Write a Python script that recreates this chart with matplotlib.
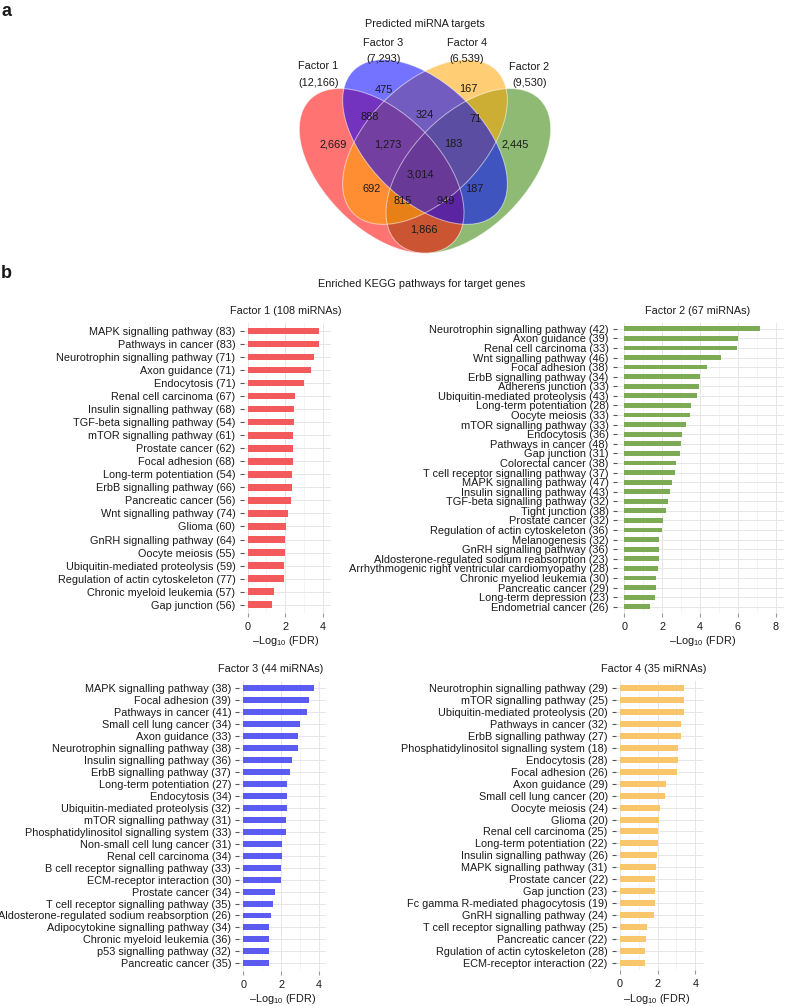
import numpy as np
import matplotlib
matplotlib.use("Agg")
import matplotlib.pyplot as plt
from matplotlib.patches import Ellipse
from matplotlib.ticker import MultipleLocator

plt.rcParams['font.family'] = ['Liberation Sans', 'DejaVu Sans']
plt.rcParams['mathtext.fontset'] = 'custom'
plt.rcParams['mathtext.rm'] = 'Liberation Sans'
plt.rcParams['mathtext.it'] = 'Liberation Sans:italic'

# ---- Venn data (panel a) ----
venn_sets = ["Factor 1", "Factor 2", "Factor 3", "Factor 4"]
venn_totals = ["12,166", "9,530", "7,293", "6,539"]
region_counts = ["475", "167", "888", "324", "71", "2,669", "1,273", "183", "2,445",
                 "3,014", "692", "187", "815", "949", "1,866"]

# ---- KEGG enrichment data (panel b) ----
f1_names = ["MAPK signalling pathway", "Pathways in cancer", "Neurotrophin signalling pathway",
            "Axon guidance", "Endocytosis", "Renal cell carcinoma", "Insulin signalling pathway",
            "TGF-beta signalling pathway", "mTOR signalling pathway", "Prostate cancer",
            "Focal adhesion", "Long-term potentiation", "ErbB signalling pathway",
            "Pancreatic cancer", "Wnt signalling pathway", "Glioma", "GnRH signalling pathway",
            "Oocyte meiosis", "Ubiquitin-mediated proteolysis", "Regulation of actin cytoskeleton",
            "Chronic myeloid leukemia", "Gap junction"]
f1_genes = [83, 83, 71, 71, 71, 67, 68, 54, 61, 62, 68, 54, 66, 56, 74, 60, 64, 55, 59, 77, 57, 56]
f1_fdr = [3.81, 3.79, 3.52, 3.36, 2.99, 2.50, 2.48, 2.46, 2.42, 2.41, 2.39, 2.37, 2.34, 2.32,
          2.16, 2.05, 2.00, 1.96, 1.95, 1.91, 1.38, 1.29]

f2_names = ["Neurotrophin signalling pathway", "Axon guidance", "Renal cell carcinoma",
            "Wnt signalling pathway", "Focal adhesion", "ErbB signalling pathway",
            "Adherens junction", "Ubiquitin-mediated proteolysis", "Long-term potentiation",
            "Oocyte meiosis", "mTOR signalling pathway", "Endocytosis", "Pathways in cancer",
            "Gap junction", "Colorectal cancer", "T cell receptor signalling pathway",
            "MAPK signalling pathway", "Insulin signalling pathway", "TGF-beta signalling pathway",
            "Tight junction", "Prostate cancer", "Regulation of actin cytoskeleton",
            "Melanogenesis", "GnRH signalling pathway", "Aldosterone-regulated sodium reabsorption",
            "Arrhythmogenic right ventricular cardiomyopathy", "Chronic myeliod leukemia",
            "Pancreatic cancer", "Long-term depression", "Endometrial cancer"]
f2_genes = [42, 39, 33, 46, 38, 34, 33, 43, 28, 33, 33, 36, 48, 31, 38, 37, 47, 43, 32, 38,
            32, 36, 32, 36, 23, 28, 30, 29, 23, 26]
f2_fdr = [7.17, 6.03, 5.97, 5.09, 4.35, 4.00, 3.93, 3.82, 3.51, 3.49, 3.26, 3.05, 3.01, 2.94,
          2.73, 2.70, 2.50, 2.43, 2.33, 2.20, 2.03, 2.01, 1.85, 1.85, 1.81, 1.76, 1.67, 1.67,
          1.64, 1.37]

f3_names = ["MAPK signalling pathway", "Focal adhesion", "Pathways in cancer",
            "Small cell lung cancer", "Axon guidance", "Neurotrophin signalling pathway",
            "Insulin signalling pathway", "ErbB signalling pathway", "Long-term potentiation",
            "Endocytosis", "Ubiquitin-mediated proteolysis", "mTOR signalling pathway",
            "Phosphatidylinositol signalling system", "Non-small cell lung cancer",
            "Renal cell carcinoma", "B cell receptor signalling pathway",
            "ECM-receptor interaction", "Prostate cancer", "T cell receptor signalling pathway",
            "Aldosterone-regulated sodium reabsorption", "Adipocytokine signalling pathway",
            "Chronic myeloid leukemia", "p53 signalling pathway", "Pancreatic cancer"]
f3_genes = [38, 39, 41, 34, 33, 38, 36, 37, 27, 34, 32, 31, 33, 31, 34, 33, 30, 34, 35, 26,
            34, 36, 32, 35]
f3_fdr = [3.77, 3.47, 3.36, 2.99, 2.92, 2.92, 2.57, 2.48, 2.34, 2.32, 2.30, 2.28, 2.27, 2.04,
          2.04, 2.02, 2.00, 1.68, 1.59, 1.47, 1.38, 1.38, 1.36, 1.35]

f4_names = ["Neurotrophin signalling pathway", "mTOR signalling pathway",
            "Ubiquitin-mediated proteolysis", "Pathways in cancer", "ErbB signalling pathway",
            "Phosphatidylinositol signalling system", "Endocytosis", "Focal adhesion",
            "Axon guidance", "Small cell lung cancer", "Oocyte meiosis", "Glioma",
            "Renal cell carcinoma", "Long-term potentiation", "Insulin signalling pathway",
            "MAPK signalling pathway", "Prostate cancer", "Gap junction",
            "Fc gamma R-mediated phagocytosis", "GnRH signalling pathway",
            "T cell receptor signalling pathway", "Pancreatic cancer",
            "Rgulation of actin cytoskeleton", "ECM-receptor interaction"]
f4_genes = [29, 25, 20, 32, 27, 18, 28, 26, 29, 20, 24, 20, 25, 22, 26, 31, 22, 23, 19, 24,
            25, 22, 28, 22]
f4_fdr = [3.42, 3.40, 3.38, 3.24, 3.22, 3.10, 3.10, 3.04, 2.46, 2.41, 2.14, 2.05, 2.04, 2.04,
          1.96, 1.93, 1.88, 1.84, 1.84, 1.79, 1.42, 1.38, 1.35, 1.33]

panel_titles = ["Factor 1 (108 miRNAs)", "Factor 2 (67 miRNAs)",
                "Factor 3 (44 miRNAs)", "Factor 4 (35 miRNAs)"]

W, H = 788, 1006
fig = plt.figure(figsize=(W / 100, H / 100), dpi=100)
TXT = '#1a1a1a'
FS = 7.8


def ftext(x, y, s, **kw):
    fig.text(x / W, 1 - y / H, s, ha='center', va='center', color=TXT, **kw)


# ---------------- panel a: Venn ----------------
s = 289.0  # px per venn unit
vx0, vx1 = 0.5 - 425 / s, 0.5 + (W - 425) / s
vy_top, vy_bot = 0.57 + 142 / s, 0.57 - (265 - 142) / s
axv = fig.add_axes([0, 1 - 265 / H, 1, 265 / H])
axv.set_xlim(vx0, vx1)
axv.set_ylim(vy_bot, vy_top)
axv.axis('off')

# ellipse layout (draw order: Factor 2, Factor 1, Factor 4, Factor 3)
ell = {
    "Factor 2": ((0.65, 0.47), 45, (50 / 255, 130 / 255, 0)),
    "Factor 1": ((0.35, 0.47), -45, (1, 0, 0)),
    "Factor 4": ((0.50, 0.57), 45, (1, 165 / 255, 0)),
    "Factor 3": ((0.50, 0.57), -45, (0, 0, 1)),
}
for name, (c, ang, col) in ell.items():
    axv.add_patch(Ellipse(c, 0.70, 0.40, angle=ang, facecolor=col, alpha=0.55, lw=0))
for name, (c, ang, col) in ell.items():
    axv.add_patch(Ellipse(c, 0.70, 0.40, angle=ang, fill=False, edgecolor='white',
                          lw=0.7, alpha=0.55))

region_xy = [(0.359, 0.750), (0.650, 0.752), (0.307, 0.655), (0.500, 0.663), (0.676, 0.650),
             (0.183, 0.563), (0.373, 0.563), (0.598, 0.563), (0.811, 0.563),
             (0.483, 0.456), (0.316, 0.407), (0.671, 0.407), (0.423, 0.367), (0.572, 0.367),
             (0.497, 0.268)]
for (x, y), t in zip(region_xy, region_counts):
    axv.text(x, y, t, ha='center', va='center', fontsize=7.9, color=TXT)

set_label_xy = {"Factor 1": (0.131, 0.833, 0.773), "Factor 2": (0.861, 0.830, 0.773),
                "Factor 3": (0.356, 0.9115, 0.856), "Factor 4": (0.644, 0.9115, 0.856)}
for name, tot in zip(venn_sets, venn_totals):
    x, y1, y2 = set_label_xy[name]
    axv.text(x, y1, name, ha='center', va='center', fontsize=FS, color=TXT)
    axv.text(x, y2, "(" + tot + ")", ha='center', va='center', fontsize=FS, color=TXT)
axv.text(0.499, 0.978, "Predicted miRNA targets", ha='center', va='center', fontsize=FS,
         color=TXT)

ftext(6, 11, "a", fontsize=13, fontweight='bold')
ftext(6, 273, "b", fontsize=13, fontweight='bold')
ftext(422, 284, "Enriched KEGG pathways for target genes", fontsize=FS)


# ---------------- panel b: bar charts ----------------
def bar_panel(left, top, right, bottom, names, genes, vals, color, xlim, xmax, title,
              title_xy, xlab_xy, fs=FS):
    ax = fig.add_axes([left / W, 1 - bottom / H, (right - left) / W, (bottom - top) / H])
    n = len(vals)
    y = np.arange(n)
    ax.barh(y, vals, height=0.5, color=color, zorder=3)
    ax.set_ylim(n - 0.4, -0.6)
    ax.set_xlim(*xlim)
    ax.set_yticks(y)
    ax.set_yticklabels([f"{a} ({g})" for a, g in zip(names, genes)])
    ax.xaxis.set_major_locator(MultipleLocator(2))
    ax.xaxis.set_minor_locator(MultipleLocator(1))
    ax.set_xticks(np.arange(0, xmax + 1, 2))
    ax.grid(True, axis='both', which='major', color='#E6E6E6', lw=0.7, zorder=0)
    ax.grid(True, axis='x', which='minor', color='#F2F2F2', lw=0.6, zorder=0)
    ax.set_axisbelow(True)
    for sp in ax.spines.values():
        sp.set_visible(False)
    ax.tick_params(axis='y', length=3, width=0.8, color='#555555', pad=3,
                   labelsize=fs, labelcolor=TXT)
    ax.tick_params(axis='x', which='major', length=3, width=0.8, color='#999999', pad=3.5,
                   labelsize=FS, labelcolor=TXT)
    ax.tick_params(axis='x', which='minor', length=0)
    ftext(title_xy[0], title_xy[1], title, fontsize=FS)
    ftext(xlab_xy[0], xlab_xy[1], "\u2013Log$_{10}$ (FDR)", fontsize=FS)
    return ax


bar_panel(243.7, 323.2, 330.7, 612.5, f1_names, f1_genes, f1_fdr, '#F25A5C',
          (-0.21, 4.41), 4, panel_titles[0], (286, 311), (286, 641))
bar_panel(617, 323.0, 784, 612.5, f2_names, f2_genes, f2_fdr, '#7DAA55',
          (-0.385, 8.44), 8, panel_titles[1], (698, 311), (703, 641), fs=7.9)
bar_panel(239.4, 681.1, 326.4, 970.5, f3_names, f3_genes, f3_fdr, '#5B5BF2',
          (-0.21, 4.41), 4, panel_titles[2], (271, 669), (282.5, 999))
bar_panel(616.0, 681.1, 703.0, 969.9, f4_names, f4_genes, f4_fdr, '#F9C66C',
          (-0.21, 4.41), 4, panel_titles[3], (654, 669), (657, 999))

fig.savefig("out.png", dpi=100)
